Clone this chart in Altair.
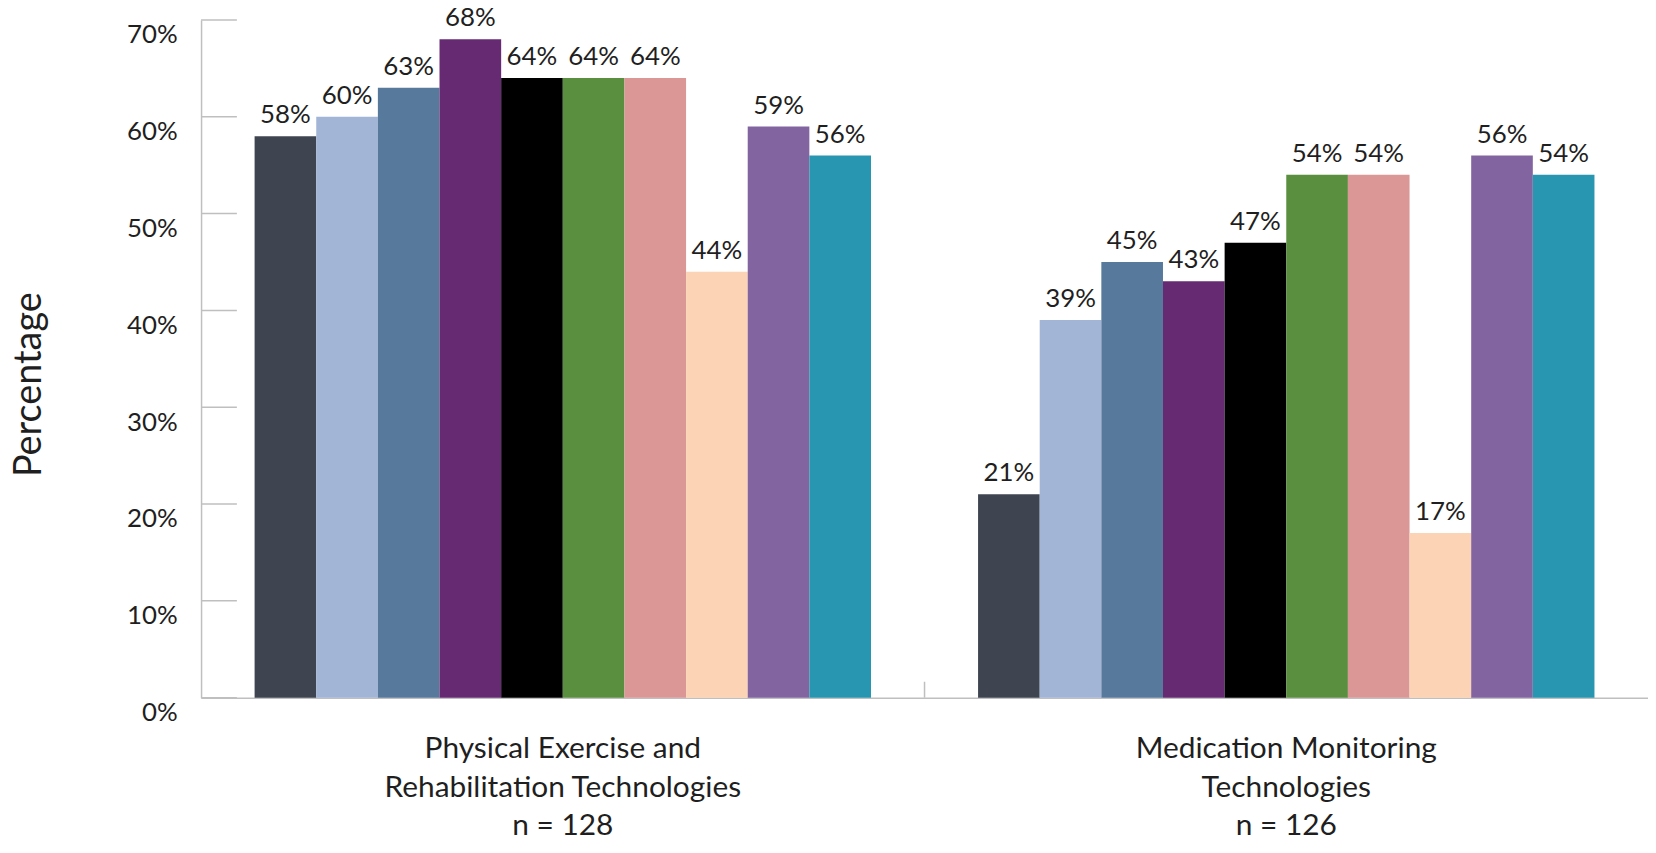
import altair as alt
import pandas as pd

# ---- data ----
category_line1 = ["Physical Exercise and", "Medication Monitoring"]
category_line2 = ["Rehabilitation Technologies", "Technologies"]
sample_sizes = [128, 126]

series = ["Series 1", "Series 2", "Series 3", "Series 4", "Series 5",
          "Series 6", "Series 7", "Series 8", "Series 9", "Series 10"]
series_colors = ["#3E4550", "#A3B5D6", "#57799C", "#662A73", "#000000",
                 "#5A8F3F", "#DB9696", "#FCD3B4", "#8265A0", "#2896B0"]

values_physical = [58, 60, 63, 68, 64, 64, 64, 44, 59, 56]
values_medication = [21, 39, 45, 43, 47, 54, 54, 17, 56, 54]

y_ticks = [0, 10, 20, 30, 40, 50, 60, 70]
group_boundaries = [1]

# ---- build tables ----
categories = [f"{a}|{b}|n = {n}" for a, b, n in zip(category_line1, category_line2, sample_sizes)]
rows = []
for cat, vals in zip(categories, [values_physical, values_medication]):
    for s, v in zip(series, vals):
        rows.append({"category": cat, "series": s, "value": v})
df = pd.DataFrame(rows)

FONT = "Lato"
TEXT_COLOR = "#1F1F1F"
AXIS_COLOR = "#BFBFBF"
W, H = 1454, 681

x_enc = alt.X(
    "category:N",
    sort=categories,
    scale=alt.Scale(paddingInner=0.148, paddingOuter=0.074),
    axis=alt.Axis(
        title=None, labelAngle=0, labelExpr="split(datum.label, '|')",
        labelFont=FONT, labelFontSize=30, labelLineHeight=39, labelColor=TEXT_COLOR,
        labelPadding=36, tickSize=0, labelLimit=0,
        domainColor=AXIS_COLOR, domainWidth=1.5,
    ),
)
y_enc = alt.Y(
    "value:Q",
    scale=alt.Scale(domain=[0, 70], nice=False, zero=True),
    axis=alt.Axis(
        values=y_ticks, labelExpr="datum.value + '%'", grid=False,
        labelFont=FONT, labelFontSize=26, labelColor=TEXT_COLOR,
        labelPadding=24, labelOffset=15, tickSize=0,
        domainColor=AXIS_COLOR, domainWidth=1.5,
        title="Percentage", titleFont=FONT, titleFontSize=38, titleFontWeight="normal",
        titleColor=TEXT_COLOR, titleAngle=270, titleX=-172, titleY=366,
        titleAlign="center", titleBaseline="middle",
    ),
)
xoff = alt.XOffset("series:N", sort=series, scale=alt.Scale(paddingInner=0, paddingOuter=0))
color = alt.Color("series:N", sort=series,
                  scale=alt.Scale(domain=series, range=series_colors), legend=None)

base = alt.Chart(df)
bars = base.mark_bar().encode(x=x_enc, xOffset=xoff, y=y_enc, color=color)
labels = base.transform_calculate(lbl="datum.value + '%'").mark_text(
    baseline="alphabetic", dy=-13, font=FONT, fontSize=26, color=TEXT_COLOR
).encode(x=alt.X("category:N", sort=categories), xOffset=xoff, y=alt.Y("value:Q"), text="lbl:N")

yticks = alt.Chart(pd.DataFrame({"value": y_ticks})).mark_rule(
    color=AXIS_COLOR, strokeWidth=1.5
).encode(y=alt.Y("value:Q"), x=alt.value(0), x2=alt.value(36))

main = alt.layer(bars, labels, yticks)

separator = alt.Chart(pd.DataFrame({"boundary": group_boundaries})).mark_rule(
    color=AXIS_COLOR, strokeWidth=1.5
).encode(
    x=alt.X("boundary:Q", scale=alt.Scale(domain=[0, len(categories)], nice=False, zero=False), axis=None),
    y=alt.value(H - 16), y2=alt.value(H),
)

chart = alt.layer(main, separator).resolve_scale(x="independent").properties(
    width=W, height=H,
    padding={"left": 194, "top": 10, "right": 0, "bottom": 141},
    autosize=alt.AutoSizeParams(type="none"),
    background="white",
).configure_view(stroke=None)

chart.save("out.html", embed_options={"renderer": "svg", "actions": False})
